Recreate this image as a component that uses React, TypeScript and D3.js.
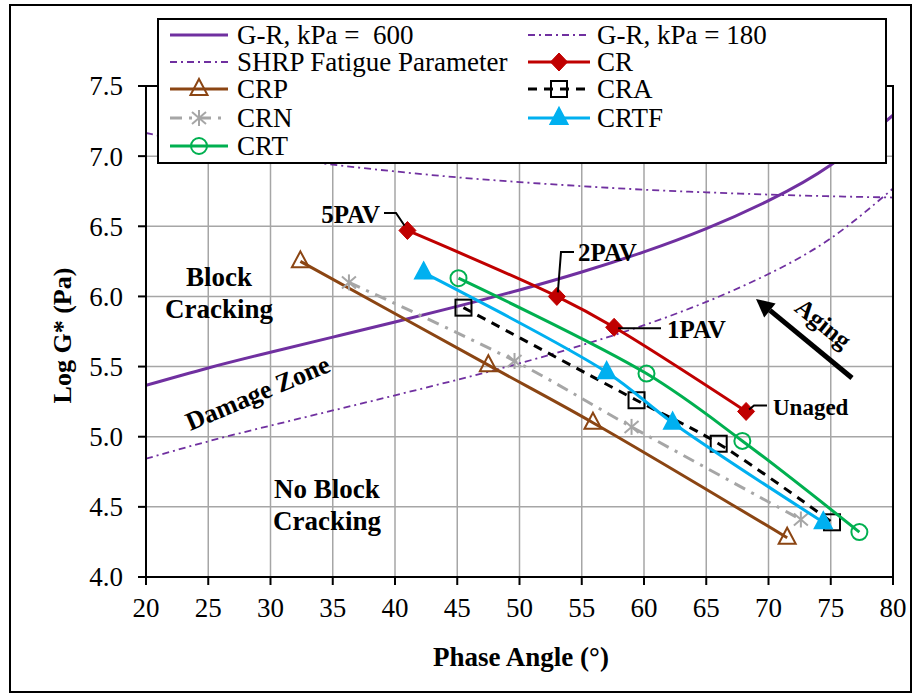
import { useMemo } from 'react'
import * as d3 from 'd3'

// phase angle grid for the reference criteria curves
const gridAngles = [20, 25, 30, 35, 40, 45, 50, 55, 60, 65, 70, 75, 80]
const gr600 = [5.366, 5.49, 5.602, 5.71, 5.818, 5.929, 6.046, 6.174, 6.318, 6.484, 6.683, 6.937, 7.292]
const gr180 = [4.843, 4.967, 5.079, 5.187, 5.295, 5.406, 5.523, 5.652, 5.795, 5.961, 6.16, 6.414, 6.769]
const shrpFatigue = [7.165, 7.073, 7.0, 6.94, 6.891, 6.849, 6.815, 6.786, 6.761, 6.742, 6.726, 6.714, 6.705]

// binders: phase angle (deg) and log G* (Pa), aging order 5PAV -> unaged
const crAngle = [41.0, 53.0, 57.6, 68.2]
const crLogG = [6.47, 6.0, 5.78, 5.18]
const crpAngle = [32.4, 47.5, 55.9, 71.5]
const crpLogG = [6.25, 5.51, 5.1, 4.28]
const crnAngle = [36.3, 49.6, 59.0, 72.6]
const crnLogG = [6.1, 5.54, 5.07, 4.41]
const craAngle = [45.5, 59.4, 66.0, 75.1]
const craLogG = [5.92, 5.26, 4.95, 4.39]
const crtfAngle = [42.3, 57.0, 62.3, 74.4]
const crtfLogG = [6.17, 5.46, 5.1, 4.39]
const crtAngle = [45.1, 60.2, 67.9, 77.3]
const crtLogG = [6.13, 5.45, 4.97, 4.32]

const agingLabels = ['5PAV', '2PAV', '1PAV', 'Unaged']

const xTicks = [20, 25, 30, 35, 40, 45, 50, 55, 60, 65, 70, 75, 80]
const yTicks = [4.0, 4.5, 5.0, 5.5, 6.0, 6.5, 7.0, 7.5]

const PURPLE = '#7030a0'
const SERIF = '"Liberation Serif", "Times New Roman", serif'

type Mark = 'diamond' | 'triangle' | 'square' | 'star' | 'circle' | 'filledTri'

function Marker({ type, x, y, color }: { type: Mark; x: number; y: number; color: string }) {
  if (type === 'diamond')
    return <polygon points={`${x},${y - 9} ${x + 8.5},${y} ${x},${y + 9} ${x - 8.5},${y}`} fill={color} stroke={color} strokeWidth={1} />
  if (type === 'triangle' || type === 'filledTri')
    return (
      <polygon
        points={`${x},${y - 10} ${x + 8.5},${y + 6} ${x - 8.5},${y + 6}`}
        fill={type === 'filledTri' ? color : 'none'}
        stroke={color}
        strokeWidth={2}
      />
    )
  if (type === 'square') return <rect x={x - 8} y={y - 8} width={16} height={16} fill="none" stroke={color} strokeWidth={2} />
  if (type === 'circle') return <circle cx={x} cy={y} r={8} fill="none" stroke={color} strokeWidth={2} />
  return (
    <g stroke={color} strokeWidth={2}>
      <line x1={x} y1={y - 8} x2={x} y2={y + 8} />
      <line x1={x - 7} y1={y - 6} x2={x + 7} y2={y + 6} />
      <line x1={x - 7} y1={y + 6} x2={x + 7} y2={y - 6} />
    </g>
  )
}

export default function App() {
  const W = 914
  const H = 695
  const left = 146
  const right = 893
  const top = 86
  const bottom = 577

  const x = useMemo(() => d3.scaleLinear().domain([20, 80]).range([left, right]), [])
  const y = useMemo(() => d3.scaleLinear().domain([4, 7.5]).range([bottom, top]), [])

  const refLine = d3
    .line<number>()
    .x((_, i) => x(gridAngles[i]))
    .y((d) => y(d))
    .curve(d3.curveNatural)

  const serLine = d3
    .line<[number, number]>()
    .x((d) => x(d[0]))
    .y((d) => y(d[1]))
    .curve(d3.curveCatmullRom)

  const zip = (a: number[], b: number[]) => a.map((v, i) => [v, b[i]] as [number, number])

  const series = [
    { name: 'CR', pts: zip(crAngle, crLogG), color: '#c00000', mark: 'diamond' as Mark, dash: undefined, width: 3 },
    { name: 'CRP', pts: zip(crpAngle, crpLogG), color: '#8b4513', mark: 'triangle' as Mark, dash: undefined, width: 3 },
    { name: 'CRN', pts: zip(crnAngle, crnLogG), color: '#a6a6a6', mark: 'star' as Mark, dash: '12,7,3,7', width: 3 },
    { name: 'CRA', pts: zip(craAngle, craLogG), color: '#000000', mark: 'square' as Mark, dash: '9,7', width: 3 },
    { name: 'CRTF', pts: zip(crtfAngle, crtfLogG), color: '#00b0f0', mark: 'filledTri' as Mark, dash: undefined, width: 3 },
    { name: 'CRT', pts: zip(crtAngle, crtLogG), color: '#00b050', mark: 'circle' as Mark, dash: undefined, width: 3 },
  ]

  const byName = (n: string) => series.find((s) => s.name === n)!

  // legend
  const legRows = [35, 62, 89, 118, 146]
  const legend = [
    { label: 'G-R, kPa =  600', col: 0, row: 0, color: PURPLE, dash: undefined, width: 3, mark: null },
    { label: 'G-R, kPa = 180', col: 1, row: 0, color: PURPLE, dash: '7,4,2,4', width: 1.8, mark: null },
    { label: 'SHRP Fatigue Parameter', col: 0, row: 1, color: PURPLE, dash: '7,4,2,4', width: 1.8, mark: null },
    { label: 'CR', col: 1, row: 1, ...pick(byName('CR')) },
    { label: 'CRP', col: 0, row: 2, ...pick(byName('CRP')) },
    { label: 'CRA', col: 1, row: 2, ...pick(byName('CRA')) },
    { label: 'CRN', col: 0, row: 3, ...pick(byName('CRN')) },
    { label: 'CRTF', col: 1, row: 3, ...pick(byName('CRTF')) },
    { label: 'CRT', col: 0, row: 4, ...pick(byName('CRT')) },
  ]
  function pick(s: { color: string; dash?: string; width: number; mark: Mark }) {
    return { color: s.color, dash: s.dash, width: s.width, mark: s.mark as Mark | null }
  }
  const legCols = [{ x1: 170, x2: 228, tx: 237 }, { x1: 528, x2: 590, tx: 597 }]

  const cr = zip(crAngle, crLogG).map((p) => [x(p[0]), y(p[1])])

  return (
    <div style={{ position: 'absolute', left: 0, top: 0 }}>
      <svg width={W} height={H} style={{ display: 'block', fontFamily: SERIF }}>
        <rect x={0} y={0} width={W} height={H} fill="#fff" />
        <rect x={10} y={5} width={901} height={687} fill="none" stroke="#000" strokeWidth={2} />

        <defs>
          <clipPath id="plot">
            <rect x={left} y={top} width={right - left} height={bottom - top} />
          </clipPath>
        </defs>

        {/* grid */}
        {xTicks.map((t) => (
          <line key={'gx' + t} x1={x(t)} x2={x(t)} y1={top} y2={bottom} stroke="#a6a6a6" strokeWidth={1.5} />
        ))}
        {yTicks.map((t) => (
          <line key={'gy' + t} x1={left} x2={right} y1={y(t)} y2={y(t)} stroke="#a6a6a6" strokeWidth={1.5} />
        ))}

        {/* criteria curves */}
        <g clipPath="url(#plot)" fill="none">
          <path d={refLine(shrpFatigue)!} stroke={PURPLE} strokeWidth={1.8} strokeDasharray="7,4,2,4" />
          <path d={refLine(gr180)!} stroke={PURPLE} strokeWidth={1.8} strokeDasharray="7,4,2,4" />
          <path d={refLine(gr600)!} stroke={PURPLE} strokeWidth={3} />
        </g>

        {/* binder series */}
        {series.map((s) => (
          <g key={s.name}>
            <path d={serLine(s.pts)!} fill="none" stroke={s.color} strokeWidth={s.width} strokeDasharray={s.dash} />
            {s.pts.map((p, i) => (
              <Marker key={i} type={s.mark} x={x(p[0])} y={y(p[1])} color={s.color} />
            ))}
          </g>
        ))}

        {/* plot frame + axes */}
        <rect x={left} y={top} width={right - left} height={bottom - top} fill="none" stroke="#000" strokeWidth={2} />
        {xTicks.map((t) => (
          <g key={'tx' + t}>
            <line x1={x(t)} x2={x(t)} y1={bottom} y2={bottom + 8} stroke="#000" strokeWidth={2} />
            <text x={x(t)} y={bottom + 40} textAnchor="middle" fontSize={27}>
              {t}
            </text>
          </g>
        ))}
        {yTicks.map((t) => (
          <g key={'ty' + t}>
            <line x1={left - 8} x2={left} y1={y(t)} y2={y(t)} stroke="#000" strokeWidth={2} />
            <text x={123} y={y(t)} dy="0.35em" textAnchor="end" fontSize={27}>
              {t.toFixed(1)}
            </text>
          </g>
        ))}
        <text x={521} y={666} textAnchor="middle" fontSize={27} fontWeight="bold">
          Phase Angle (°)
        </text>
        <text transform={`translate(71,${(top + bottom) / 2 + 4}) rotate(-90)`} textAnchor="middle" fontSize={26} fontWeight="bold">
          Log G* (Pa)
        </text>

        {/* aging labels */}
        <g fontWeight="bold" fontSize={25} stroke="none">
          <text x={380} y={214} dy="0.35em" textAnchor="end">{agingLabels[0]}</text>
          <text x={578} y={252} dy="0.35em">{agingLabels[1]}</text>
          <text x={667} y={329} dy="0.35em">{agingLabels[2]}</text>
          <text x={773} y={407} dy="0.35em" fontSize={23}>{agingLabels[3]}</text>
        </g>
        <g fill="none" stroke="#000" strokeWidth={2}>
          <polyline points={`384,213 396,213 ${cr[0][0] - 3},${cr[0][1] - 5}`} />
          <polyline points={`574,252 561,252 ${cr[1][0] + 1},${cr[1][1] - 4}`} />
          <polyline points={`${cr[2][0] + 4},${cr[2][1] + 1} 661,${cr[2][1] + 1}`} />
          <polyline points={`${cr[3][0] + 3},${cr[3][1] - 2} 754,${cr[3][1] - 6} 767,${cr[3][1] - 6}`} />
        </g>

        {/* zone annotations */}
        <g fontWeight="bold" fontSize={27} textAnchor="middle">
          <text x={219} y={286}>Block</text>
          <text x={219} y={318}>Cracking</text>
          <text x={327} y={498}>No Block</text>
          <text x={327} y={530}>Cracking</text>
          <text transform="translate(261,401) rotate(-23)" fontSize={26}>Damage Zone</text>
          <text transform="translate(818,330) rotate(39)" fontSize={25}>Aging</text>
        </g>
        <line x1={852} y1={378} x2={770} y2={310.4} stroke="#000" strokeWidth={5} />
        <polygon points="756,299 775.6,303.4 764.2,317.4" fill="#000" />

        {/* legend */}
        <rect x={158} y={19} width={728} height={144} fill="#fff" stroke="#000" strokeWidth={2} />
        {legend.map((l) => {
          const c = legCols[l.col]
          const ly = legRows[l.row]
          return (
            <g key={l.label}>
              <line x1={c.x1} x2={c.x2} y1={ly} y2={ly} stroke={l.color} strokeWidth={l.width} strokeDasharray={l.dash} />
              {l.mark && <Marker type={l.mark} x={(c.x1 + c.x2) / 2} y={ly} color={l.color} />}
              <text x={c.tx} y={ly} dy="0.35em" fontSize={27} style={{ whiteSpace: 'pre' }}>
                {l.label}
              </text>
            </g>
          )
        })}
      </svg>
    </div>
  )
}
